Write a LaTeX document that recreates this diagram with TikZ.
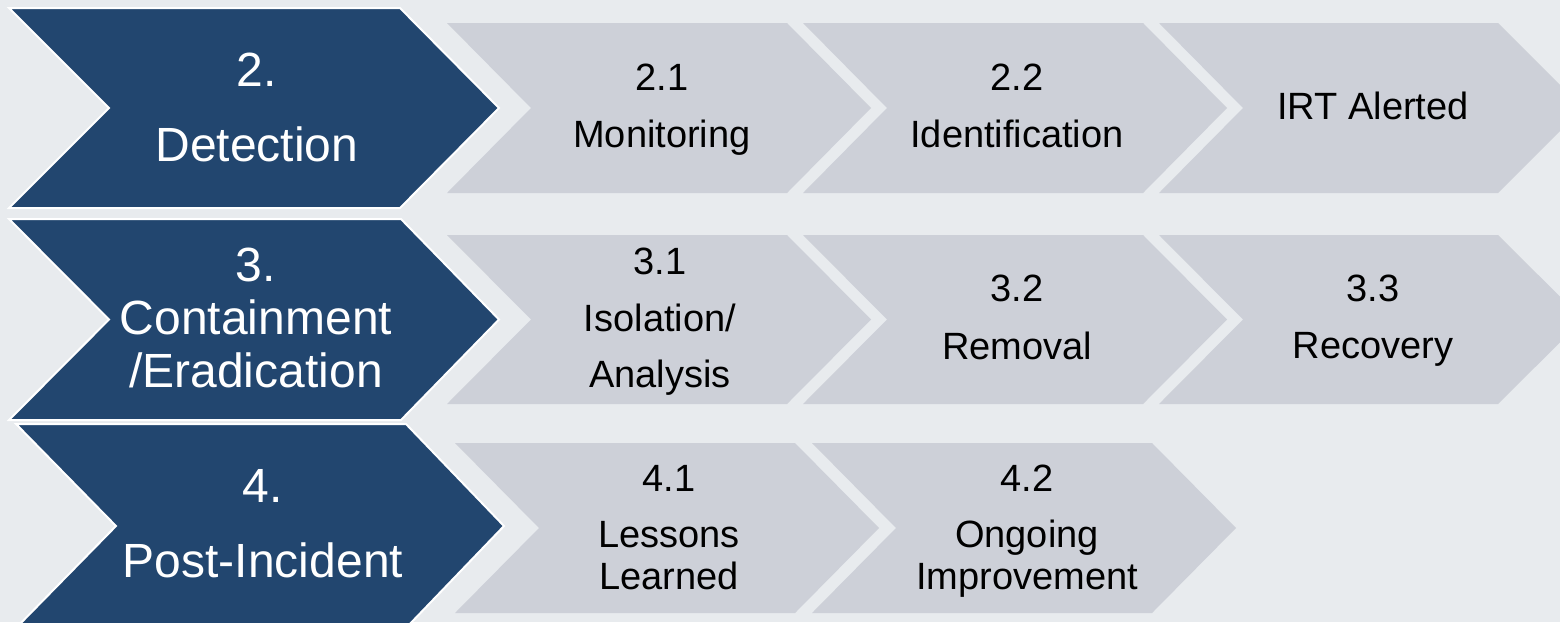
\documentclass[tikz,border=0pt]{standalone}
\usepackage{fontspec}
\setmainfont{Liberation Sans}
\definecolor{bgc}{HTML}{E8EBEE}
\definecolor{navy}{HTML}{22466F}
\definecolor{chevgray}{HTML}{CDD0D8}
\tikzset{
  darkchev/.style={fill=navy, draw=white, line width=2pt, line join=miter},
  graychev/.style={fill=chevgray},
  bigtxt/.style={text=white, align=center, inner sep=0pt, font=\fontsize{48}{75}\selectfont},
  smalltxt/.style={text=black, align=center, inner sep=0pt, font=\fontsize{38}{57}\selectfont},
}
% #1 style, #2 left, #3 top, #4 bottom, #5 corner x, #6 tip x, #7 notch depth
\newcommand{\mychev}[7]{%
  \path[#1] (#2,#3) -- (#5,#3) -- (#6,{(#3+#4)/2}) -- (#5,#4) -- (#2,#4) -- ({#2+#7},{(#3+#4)/2}) -- cycle;}
\begin{document}
\begin{tikzpicture}[x=1pt,y=-1pt]
  \useasboundingbox (0,0) rectangle (1560,622);
  \fill[bgc] (0,0) rectangle (1560,622);
  \clip (0,0) rectangle (1560,622);
  % gray chevrons row 1
  \mychev{graychev}{447}{23}{193}{787}{871}{84}
  \mychev{graychev}{803}{23}{193}{1143}{1227}{84}
  \mychev{graychev}{1159}{23}{193}{1498}{1583}{84}
  % row 2
  \mychev{graychev}{447}{235}{404}{787}{871}{84}
  \mychev{graychev}{803}{235}{404}{1143}{1227}{84}
  \mychev{graychev}{1159}{235}{404}{1498}{1583}{84}
  % row 3
  \mychev{graychev}{455}{443}{613}{795}{879}{84}
  \mychev{graychev}{812}{443}{613}{1152}{1236}{84}
  % dark chevrons
  \mychev{darkchev}{9}{8}{208}{400}{499}{100}
  \mychev{darkchev}{9}{219}{420}{401}{499}{100}
  \mychev{darkchev}{16}{424}{628}{406}{504}{100}
  % texts
  \node[bigtxt] (d2) at (257,107.3) {2.\\Detection};
  \node[bigtxt, font=\fontsize{48}{53}\selectfont] (d3) at (256,318) {3.\\Containment\\/Eradication};
  \node[bigtxt] (d4) at (263,523.3) {4.\\Post-Incident};
  \node[smalltxt] (t21) at (662,110) {2.1\\Monitoring};
  \node[smalltxt] (t22) at (1017,106.4) {2.2\\Identification};
  \node[smalltxt] (t23) at (1373,106.4) {IRT Alerted};
  \node[smalltxt, font=\fontsize{38}{56.5}\selectfont] (t31) at (660,322) {3.1\\Isolation/\\Analysis};
  \node[smalltxt, font=\fontsize{38}{58}\selectfont] (t32) at (1017,317.4) {3.2\\Removal};
  \node[smalltxt] (t33) at (1373,321) {3.3\\Recovery};
  \node[smalltxt, font=\fontsize{38}{42}\selectfont] (t41) at (669,527.4) {4.1\\[14pt]Lessons\\Learned};
  \node[smalltxt, font=\fontsize{38}{42}\selectfont] (t42) at (1027,531.4) {4.2\\[14pt]Ongoing\\Improvement};
\end{tikzpicture}
\end{document}
